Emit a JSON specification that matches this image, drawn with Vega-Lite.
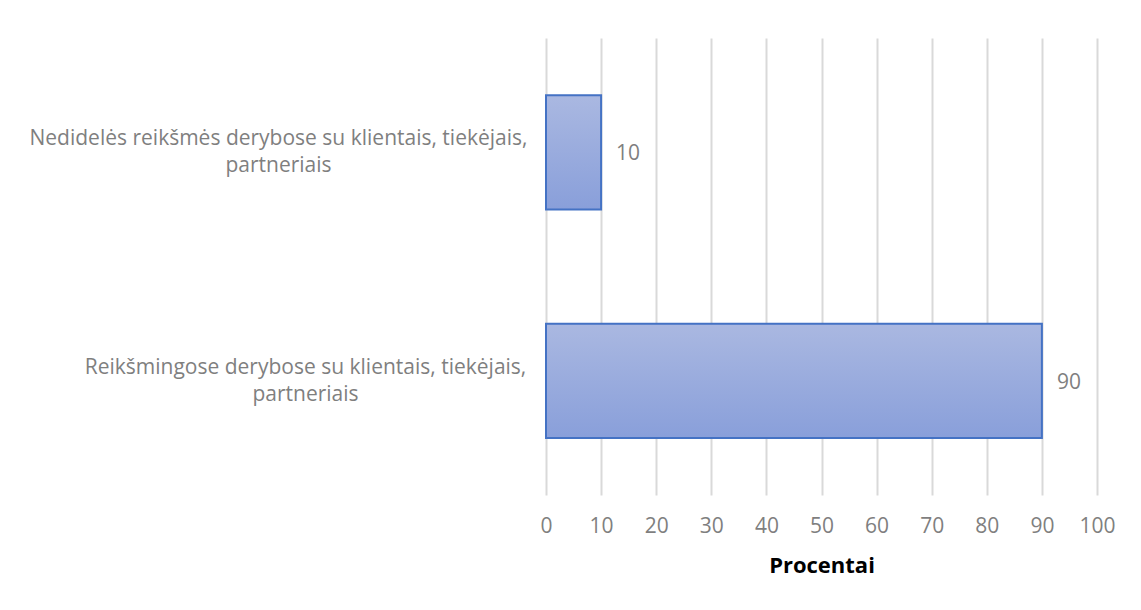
{
  "$schema": "https://vega.github.io/schema/vega-lite/v6.json",
  "autosize": {"type": "none"},
  "padding": {"left": 546, "top": 38, "right": 44, "bottom": 115},
  "width": 551,
  "height": 457,
  "background": "white",
  "config": {
    "font": "Open Sans",
    "view": {"stroke": null}
  },
  "data": {
    "values": [
      {"atsakymas": "Nedidelės reikšmės derybose su klientais, tiekėjais, partneriais", "procentai": 10},
      {"atsakymas": "Reikšmingose derybose su klientais, tiekėjais, partneriais", "procentai": 90}
    ]
  },
  "encoding": {
    "y": {
      "field": "atsakymas",
      "type": "nominal",
      "sort": null,
      "scale": {"paddingInner": 0.5, "paddingOuter": 0.25},
      "axis": {
        "title": null,
        "domain": false,
        "ticks": false,
        "tickSize": 0,
        "labelAlign": "center",
        "labelPadding": {
          "condition": {"test": "indexof(datum.value, 'Nedidel') === 0", "value": 268},
          "value": 241
        },
        "labelOffset": -13,
        "labelFontSize": 21,
        "labelColor": "#7f7f7f",
        "labelLineHeight": 27,
        "labelLimit": 0,
        "labelExpr": "split(replace(datum.label, 'tiekėjais, ', 'tiekėjais,|'), '|')"
      }
    },
    "x": {
      "field": "procentai",
      "type": "quantitative",
      "scale": {"domain": [0, 100], "nice": false},
      "axis": {
        "title": "Procentai",
        "titleFontSize": 22,
        "titleFontWeight": "bold",
        "titleColor": "#000000",
        "titlePadding": 19,
        "values": [0, 10, 20, 30, 40, 50, 60, 70, 80, 90, 100],
        "domain": false,
        "ticks": false,
        "tickSize": 0,
        "grid": true,
        "gridColor": "#d9d9d9",
        "gridWidth": 2,
        "labelFontSize": 21,
        "labelColor": "#7f7f7f",
        "labelPadding": 20,
        "labelFlush": false
      }
    }
  },
  "layer": [
    {
      "mark": {
        "type": "bar",
        "stroke": "#4472c4",
        "strokeWidth": 2,
        "color": {
          "gradient": "linear",
          "x1": 0, "y1": 0, "x2": 0, "y2": 1,
          "stops": [
            {"offset": 0, "color": "#aab8e1"},
            {"offset": 1, "color": "#899fda"}
          ]
        }
      }
    },
    {
      "mark": {
        "type": "text",
        "align": "left",
        "baseline": "middle",
        "dx": 15,
        "dy": 2,
        "fontSize": 21,
        "color": "#7f7f7f"
      },
      "encoding": {
        "text": {"field": "procentai", "type": "quantitative"}
      }
    }
  ]
}
